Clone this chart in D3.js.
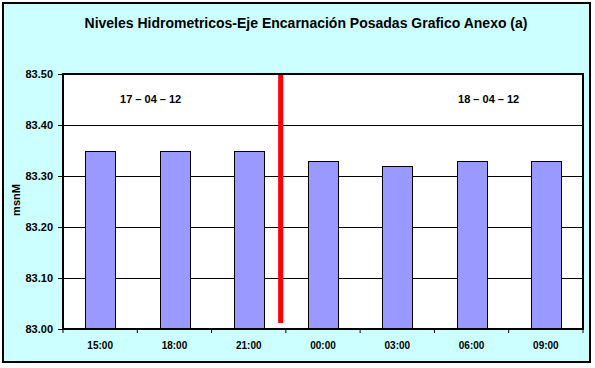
<!DOCTYPE html>
<html>
<head>
<meta charset="utf-8">
<script src="https://cdn.jsdelivr.net/npm/d3@7"></script>
<style>
  html, body { margin: 0; padding: 0; background: #fff; }
  svg { display: block; }
  text { font-family: Arial, "Liberation Sans", sans-serif; font-weight: bold; fill: #000; }
</style>
</head>
<body>
<svg id="chart" width="595" height="368"></svg>
<script>
// ---- data ----
const categories = ["15:00", "18:00", "21:00", "00:00", "03:00", "06:00", "09:00"];
const levels = [83.35, 83.35, 83.35, 83.33, 83.32, 83.33, 83.33];
const yTicks = [83.00, 83.10, 83.20, 83.30, 83.40, 83.50];
const dateLabels = ["17 – 04 – 12", "18 – 04 – 12"];
const dateAnchors = [1.18, 5.73];     // category positions (in bands) of the date labels
const dividerAt = 2.93;               // position of the red day separator (in bands)
const title = "Niveles Hidrometricos-Eje Encarnación Posadas Grafico Anexo (a)";
const yLabel = "msnM";

// ---- layout ----
const svg = d3.select("#chart");
const plot = { left: 63, right: 583, top: 74, bottom: 329 };

svg.append("rect").attr("x", 3).attr("y", 3).attr("width", 587).attr("height", 359)
  .attr("fill", "#CCFFFF").attr("stroke", "#000").attr("stroke-width", 2);

svg.append("text").attr("x", 306).attr("y", 28).attr("text-anchor", "middle")
  .style("font-size", "14px").text(title);

const x = d3.scaleBand().domain(categories).range([plot.left, plot.right]).paddingInner(0.6).paddingOuter(0.3);
const xPos = d3.scaleLinear().domain([0, categories.length]).range([plot.left, plot.right]);
const y = d3.scaleLinear().domain([83.0, 83.5]).range([plot.bottom, plot.top]);

svg.append("rect").attr("x", plot.left).attr("y", plot.top)
  .attr("width", plot.right - plot.left).attr("height", plot.bottom - plot.top).attr("fill", "#fff");

// gridlines
svg.append("g").selectAll("line").data(yTicks).join("line")
  .attr("x1", plot.left).attr("x2", plot.right)
  .attr("y1", d => Math.round(y(d)) + 0.5).attr("y2", d => Math.round(y(d)) + 0.5)
  .attr("stroke", "#000").attr("stroke-width", 1);

// bars
svg.append("g").selectAll("rect").data(levels).join("rect")
  .attr("x", (d, i) => Math.round(x(categories[i])) + 0.5)
  .attr("y", d => Math.round(y(d)) + 0.5)
  .attr("width", Math.round(x.bandwidth()))
  .attr("height", d => Math.round(y(83.0)) - Math.round(y(d)))
  .attr("fill", "#9999FF").attr("stroke", "#000").attr("stroke-width", 1);

// divider
svg.append("line").attr("x1", xPos(dividerAt)).attr("x2", xPos(dividerAt))
  .attr("y1", plot.top).attr("y2", 323)
  .attr("stroke", "#FF0000").attr("stroke-width", 5);

// plot frame
svg.append("rect").attr("x", plot.left).attr("y", plot.top)
  .attr("width", plot.right - plot.left).attr("height", plot.bottom - plot.top)
  .attr("fill", "none").attr("stroke", "#000").attr("stroke-width", 2);

// y axis
const yAxis = d3.axisLeft(y).tickValues(yTicks).tickFormat(d3.format(".2f")).tickSize(5).tickPadding(5);
const gy = svg.append("g").attr("transform", `translate(${plot.left},0)`).call(yAxis);
gy.select(".domain").remove();
gy.selectAll("line").attr("stroke", "#000");
gy.selectAll("text").style("font-size", "11px").style("font-family", "Arial, 'Liberation Sans', sans-serif").style("font-weight", "bold");

// x axis
const xAxis = d3.axisBottom(x).tickSize(0).tickPadding(13);
const gx = svg.append("g").attr("transform", `translate(0,${plot.bottom})`).call(xAxis);
gx.select(".domain").remove();
gx.selectAll("text").style("font-size", "10px").style("font-family", "Arial, 'Liberation Sans', sans-serif").style("font-weight", "bold");
svg.append("g").selectAll("line").data(d3.range(categories.length + 1)).join("line")
  .attr("x1", d => xPos(d)).attr("x2", d => xPos(d))
  .attr("y1", plot.bottom).attr("y2", plot.bottom + 4)
  .attr("stroke", "#000").attr("stroke-width", 1);

// date labels
svg.append("g").selectAll("text").data(dateLabels).join("text")
  .attr("x", (d, i) => xPos(dateAnchors[i]))
  .attr("y", 103).attr("text-anchor", "middle")
  .style("font-size", "11px").text(d => d);

// y label
svg.append("text").attr("transform", "translate(20,200) rotate(-90)")
  .attr("text-anchor", "middle").style("font-size", "11px").text(yLabel);
</script>
</body>
</html>
